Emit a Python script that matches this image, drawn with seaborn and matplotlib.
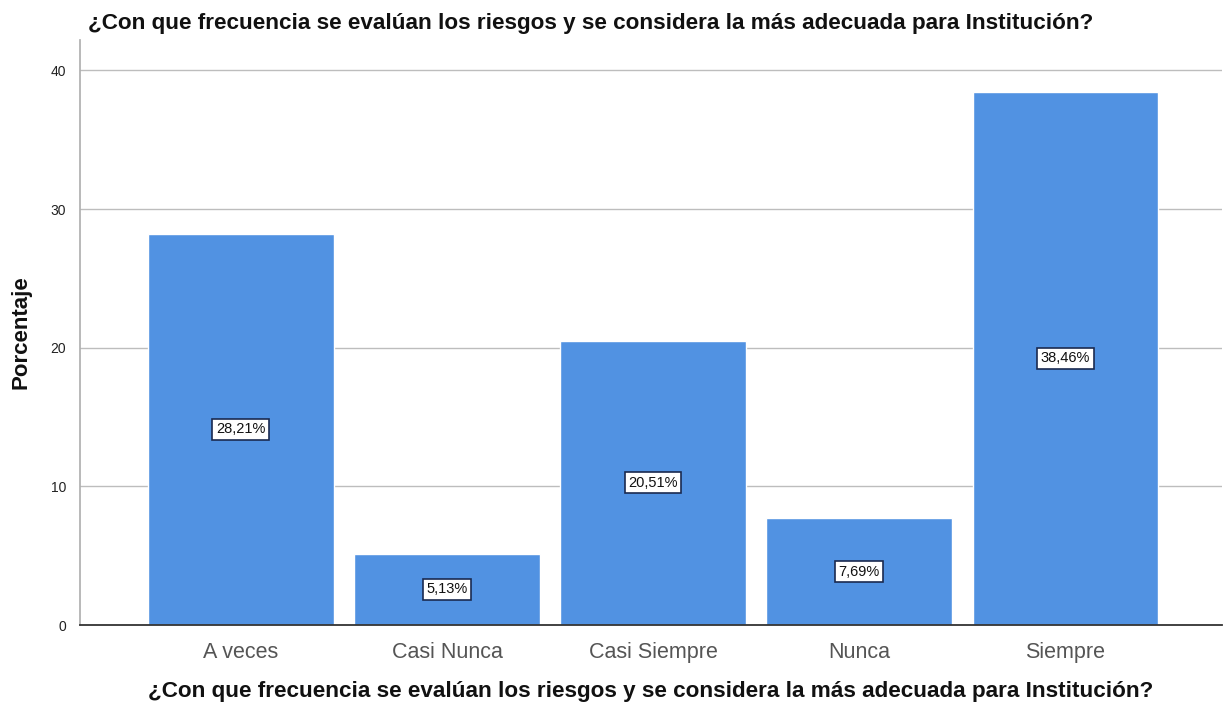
import matplotlib
matplotlib.use("Agg")
import matplotlib.pyplot as plt
import seaborn as sns
import pandas as pd

categorias = ["A veces", "Casi Nunca", "Casi Siempre", "Nunca", "Siempre"]
porcentajes = [28.21, 5.13, 20.51, 7.69, 38.46]
etiquetas = ["28,21%", "5,13%", "20,51%", "7,69%", "38,46%"]
yticks = [0, 10, 20, 30, 40]
titulo = "¿Con que frecuencia se evalúan los riesgos y se considera la más adecuada para Institución?"

sns.set_theme(style="white")
plt.rcParams["font.family"] = ["Liberation Sans", "DejaVu Sans"]

df = pd.DataFrame({"categoria": categorias, "porcentaje": porcentajes})

fig = plt.figure(figsize=(12.26, 7.10), dpi=100)
ax = fig.add_axes([0.0653, 0.1197, 0.9314, 0.824])

sns.barplot(data=df, x="categoria", y="porcentaje", color="#5192E2",
            saturation=1, width=0.9, ax=ax, zorder=2)

ax.set_ylim(0, 42.2)
ax.set_xlim(-0.78, 4.76)
ax.set_yticks(yticks)
ax.set_yticklabels([str(t) for t in yticks], fontsize=10, color="#222222")
ax.tick_params(axis="y", length=0, pad=10)
ax.tick_params(axis="x", length=0, pad=12, labelsize=15.5, labelcolor="#555555")

for t in yticks[1:]:
    ax.axhline(t, color="#bdbdbd", lw=1.0, zorder=1)

for s in ["top", "right"]:
    ax.spines[s].set_visible(False)
ax.spines["left"].set_color("#b0b0b0")
ax.spines["bottom"].set_color("#333333")
ax.spines["bottom"].set_linewidth(1.3)

for i, (v, lab) in enumerate(zip(porcentajes, etiquetas)):
    ax.text(i, v / 2, lab, ha="center", va="center", fontsize=10.5, color="#111111",
            bbox=dict(boxstyle="square,pad=0.25", facecolor="white", edgecolor="#1a2a50", lw=1.2),
            zorder=3)

ax.set_xlabel(titulo, fontsize=16.2, fontweight="bold", labelpad=13, color="#111111")
ax.set_ylabel("Porcentaje", fontsize=16, fontweight="bold", labelpad=14, color="#111111")

fig.text(0.0718, 0.967, titulo, fontsize=16.2, fontweight="bold", ha="left", va="center", color="#111111")

fig.savefig("out.png", dpi=100, facecolor="white")
